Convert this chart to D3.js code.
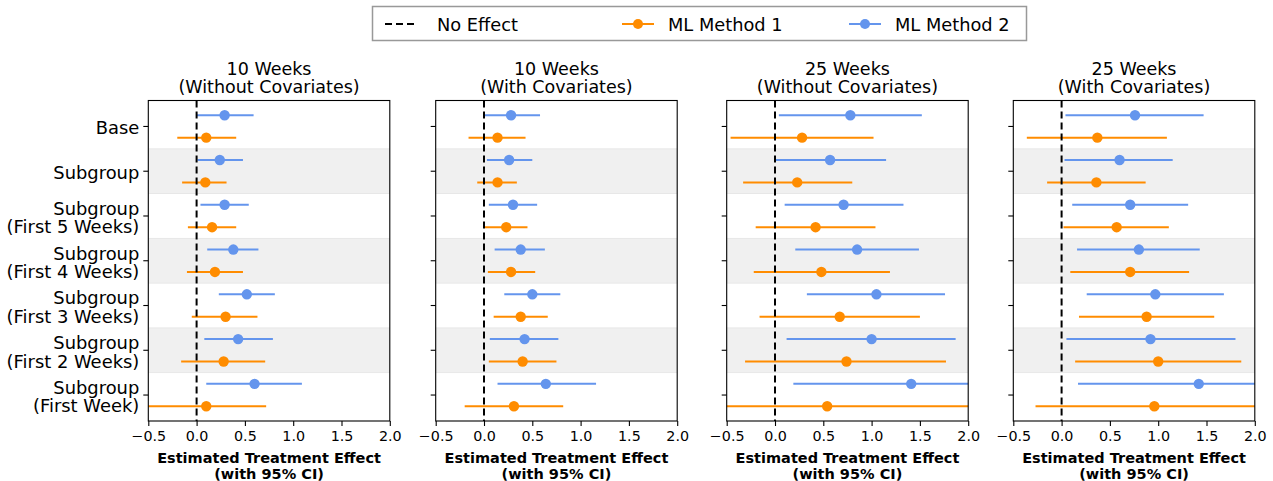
<!DOCTYPE html>
<html>
<head>
<meta charset="utf-8">
<script src="https://cdn.jsdelivr.net/npm/d3@7"></script>
<style>
  body { margin: 0; background: #fff; }
  svg { font-family: "DejaVu Sans", sans-serif; }
</style>
</head>
<body>
<svg id="chart" width="1273" height="481"></svg>
<script>
// categories (top to bottom) and panel titles
var categories = ["Base", "Subgroup", "Subgroup\n(First 5 Weeks)", "Subgroup\n(First 4 Weeks)",
                  "Subgroup\n(First 3 Weeks)", "Subgroup\n(First 2 Weeks)", "Subgroup\n(First Week)"];
var panelTitles = ["10 Weeks\n(Without Covariates)", "10 Weeks\n(With Covariates)",
                   "25 Weeks\n(Without Covariates)", "25 Weeks\n(With Covariates)"];
var xTicks = [-0.5, 0.0, 0.5, 1.0, 1.5, 2.0];

// ML Method 1 (orange): estimate, lower and upper 95% CI, one row per panel
var m1Est = [
  [0.10, 0.09, 0.16, 0.19, 0.30, 0.28, 0.10],
  [0.14, 0.14, 0.23, 0.28, 0.38, 0.40, 0.31],
  [0.28, 0.23, 0.42, 0.48, 0.67, 0.74, 0.54],
  [0.37, 0.36, 0.57, 0.71, 0.88, 1.00, 0.96]
];
var m1Lo = [
  [-0.20, -0.15, -0.09, -0.10, -0.05, -0.16, -0.53],
  [-0.16, -0.07, 0.01, 0.04, 0.10, 0.05, -0.20],
  [-0.46, -0.33, -0.20, -0.22, -0.16, -0.31, -0.96],
  [-0.36, -0.15, 0.02, 0.09, 0.18, 0.14, -0.27]
];
var m1Hi = [
  [0.41, 0.31, 0.41, 0.48, 0.63, 0.71, 0.72],
  [0.43, 0.34, 0.45, 0.53, 0.66, 0.75, 0.82],
  [1.02, 0.80, 1.04, 1.19, 1.50, 1.77, 2.04],
  [1.09, 0.87, 1.11, 1.32, 1.58, 1.86, 2.19]
];

// ML Method 2 (blue)
var m2Est = [
  [0.29, 0.24, 0.29, 0.38, 0.52, 0.43, 0.60],
  [0.28, 0.26, 0.30, 0.38, 0.50, 0.42, 0.64],
  [0.78, 0.57, 0.71, 0.85, 1.05, 1.00, 1.41],
  [0.76, 0.60, 0.71, 0.80, 0.97, 0.92, 1.42]
];
var m2Lo = [
  [0.00, 0.01, 0.04, 0.11, 0.23, 0.08, 0.10],
  [-0.01, 0.03, 0.05, 0.11, 0.21, 0.06, 0.14],
  [0.04, 0.00, 0.10, 0.21, 0.33, 0.12, 0.19],
  [0.04, 0.03, 0.11, 0.16, 0.26, 0.05, 0.17]
];
var m2Hi = [
  [0.59, 0.48, 0.54, 0.64, 0.81, 0.79, 1.09],
  [0.58, 0.50, 0.55, 0.63, 0.79, 0.77, 1.16],
  [1.52, 1.15, 1.33, 1.49, 1.76, 1.87, 2.64],
  [1.47, 1.15, 1.31, 1.43, 1.68, 1.80, 2.66]
];

var ORANGE = "#ff8c00", BLUE = "#6495ed";

var svg = d3.select("#chart");
var plotTop = 100.5, plotBottom = 421, pw = 241.5;
var panelLeft = [148.3, 435.7, 726.7, 1013.3];

var y = d3.scaleLinear().domain([-0.58, categories.length - 1 + 0.58]).range([plotTop, plotBottom]);

panelLeft.forEach(function(left, p) {
  var x = d3.scaleLinear().domain([-0.5, 2.0]).range([left, left + pw]);
  var g = svg.append("g");

  g.append("clipPath").attr("id", "clip" + p)
    .append("rect").attr("x", left).attr("y", plotTop).attr("width", pw).attr("height", plotBottom - plotTop);

  var plot = g.append("g").attr("clip-path", "url(#clip" + p + ")");

  // alternate shaded bands
  plot.selectAll("rect.band")
    .data(d3.range(categories.length).filter(function(i) { return i % 2 == 1; }))
    .enter().append("rect")
    .attr("class", "band")
    .attr("x", left)
    .attr("width", pw)
    .attr("y", function(i) { return y(i - 0.5); })
    .attr("height", function(i) { return y(i + 0.5) - y(i - 0.5); })
    .attr("fill", "#f0f0f0")
    .attr("stroke", "#e4e4e4")
    .attr("stroke-width", 0.8);

  // error bars for both methods
  var series = [
    { est: m2Est[p], lo: m2Lo[p], hi: m2Hi[p], color: BLUE, off: -0.25 },
    { est: m1Est[p], lo: m1Lo[p], hi: m1Hi[p], color: ORANGE, off: 0.25 }
  ];
  series.forEach(function(s) {
    plot.selectAll(null)
      .data(s.est)
      .enter().append("line")
      .attr("x1", function(d, i) { return x(s.lo[i]); })
      .attr("x2", function(d, i) { return x(s.hi[i]); })
      .attr("y1", function(d, i) { return y(i + s.off); })
      .attr("y2", function(d, i) { return y(i + s.off); })
      .attr("stroke", s.color)
      .attr("stroke-width", 2);
  });

  // no-effect line
  plot.append("line")
    .attr("x1", x(0)).attr("x2", x(0))
    .attr("y1", plotTop).attr("y2", plotBottom)
    .attr("stroke", "#000")
    .attr("stroke-width", 2)
    .attr("stroke-dasharray", "7,4");

  series.forEach(function(s) {
    plot.selectAll(null)
      .data(s.est)
      .enter().append("circle")
      .attr("cx", function(d) { return x(d); })
      .attr("cy", function(d, i) { return y(i + s.off); })
      .attr("r", 5.2)
      .attr("fill", s.color);
  });

  // frame
  g.append("rect")
    .attr("x", left).attr("y", plotTop).attr("width", pw).attr("height", plotBottom - plotTop)
    .attr("fill", "none").attr("stroke", "#000").attr("stroke-width", 1.1);

  // x axis
  var xAxis = g.append("g")
    .attr("transform", "translate(0," + plotBottom + ")")
    .call(d3.axisBottom(x).tickValues(xTicks).tickSize(5).tickPadding(5)
      .tickFormat(function(d) { return d3.format(".1f")(d).replace("-", "\u2212"); }));
  xAxis.select(".domain").remove();
  xAxis.selectAll("line").attr("stroke", "#000").attr("stroke-width", 1.1);
  xAxis.selectAll("text").attr("fill", "#000").style("font-size", "14.3px")
    .style("font-family", "DejaVu Sans, sans-serif");

  // y ticks
  g.selectAll(null)
    .data(categories)
    .enter().append("line")
    .attr("x1", left - 5).attr("x2", left)
    .attr("y1", function(d, i) { return y(i); })
    .attr("y2", function(d, i) { return y(i); })
    .attr("stroke", "#000").attr("stroke-width", 1.1);

  if (p == 0) {
    var yl = g.selectAll(null)
      .data(categories)
      .enter().append("text")
      .attr("text-anchor", "end")
      .style("font-size", "17.9px");
    yl.each(function(d, i) {
      var lines = d.split("\n");
      var t = d3.select(this);
      lines.forEach(function(line, k) {
        t.append("tspan")
          .attr("x", left - 9)
          .attr("y", y(i) + 8 + (k - (lines.length - 1) / 2) * 18.5)
          .text(line);
      });
    });
  }

  // panel title
  var title = g.append("text")
    .attr("text-anchor", "middle")
    .style("font-size", "17.5px");
  panelTitles[p].split("\n").forEach(function(line, k) {
    title.append("tspan")
      .attr("x", left + pw / 2)
      .attr("y", 74.5 + k * 18.5)
      .text(line);
  });

  // x axis label
  var xl = g.append("text")
    .attr("text-anchor", "middle")
    .style("font-size", "14.5px")
    .style("font-weight", "bold");
  ["Estimated Treatment Effect", "(with 95% CI)"].forEach(function(line, k) {
    xl.append("tspan")
      .attr("x", left + pw / 2)
      .attr("y", 462.5 + k * 16)
      .text(line);
  });
});

// legend
var legend = svg.append("g");
legend.append("rect")
  .attr("x", 372.5).attr("y", 6.5).attr("width", 654).attr("height", 34)
  .attr("fill", "#fff").attr("stroke", "#999").attr("stroke-width", 1.5);

var legendItems = [
  { label: "No Effect", color: "#000", dash: true, x: 385 },
  { label: "ML Method 1", color: ORANGE, dash: false, x: 622 },
  { label: "ML Method 2", color: BLUE, dash: false, x: 849 }
];
var li = legend.selectAll("g.item")
  .data(legendItems)
  .enter().append("g")
  .attr("class", "item")
  .attr("transform", function(d) { return "translate(" + d.x + ",24)"; });

li.append("line")
  .attr("x1", 0).attr("x2", 32)
  .attr("stroke", function(d) { return d.color; })
  .attr("stroke-width", 2)
  .attr("stroke-dasharray", function(d) { return d.dash ? "7,4" : null; });
li.filter(function(d) { return !d.dash; }).append("circle")
  .attr("cx", 16).attr("r", 5)
  .attr("fill", function(d) { return d.color; });
li.append("text")
  .attr("x", function(d) { return d.dash ? 52 : 46; })
  .attr("y", 6.5)
  .style("font-size", "17.8px")
  .text(function(d) { return d.label; });
</script>
</body>
</html>
